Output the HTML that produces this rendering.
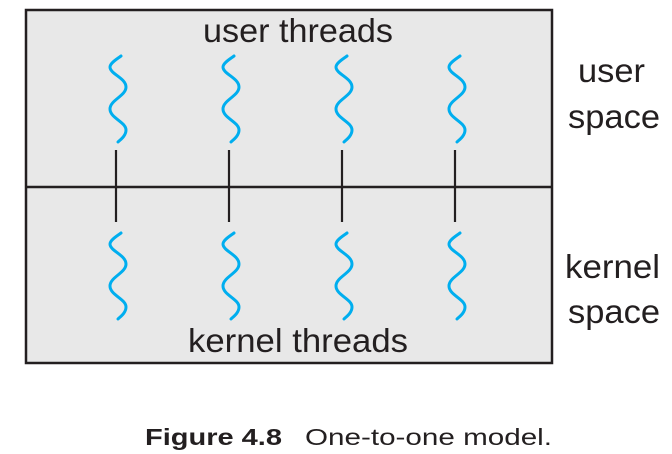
<!DOCTYPE html>
<html><head><style>
body{margin:0;background:#fff;}
svg{display:block;}
</style></head><body>
<svg width="672" height="454" viewBox="0 0 672 454" xmlns="http://www.w3.org/2000/svg">
<rect x="26" y="10" width="526" height="353" fill="#e8e8e8" stroke="#231f20" stroke-width="2.5"/>
<line x1="26" y1="187" x2="552" y2="187" stroke="#231f20" stroke-width="2.5"/>
<g stroke="#231f20" stroke-width="2.2">
<line x1="116" y1="150" x2="116" y2="222"/>
<line x1="229" y1="150" x2="229" y2="222"/>
<line x1="342" y1="150" x2="342" y2="222"/>
<line x1="455" y1="150" x2="455" y2="222"/>
</g>
<defs>
<path id="sq" d="M3 0 C-1 3,-8 7,-8 11 C-8 18,8 22,8 31 C8 40,-8 44,-8 53 C-8 62,8 66,8 74 C8 80,2 84,0 86" fill="none" stroke="#00aeef" stroke-width="3" stroke-linecap="round"/>
</defs>
<g>
<use href="#sq" x="118" y="56"/><use href="#sq" x="231" y="56"/><use href="#sq" x="344" y="56"/><use href="#sq" x="457" y="56"/>
<use href="#sq" x="118" y="233"/><use href="#sq" x="231" y="233"/><use href="#sq" x="344" y="233"/><use href="#sq" x="457" y="233"/>
</g>
<g font-family="Liberation Sans, sans-serif" font-size="33" fill="#231f20" lengthAdjust="spacingAndGlyphs">
<text x="203" y="42" textLength="190" lengthAdjust="spacingAndGlyphs">user threads</text>
<text x="188" y="352" textLength="220" lengthAdjust="spacingAndGlyphs">kernel threads</text>
<text x="578" y="82" textLength="67" lengthAdjust="spacingAndGlyphs">user</text>
<text x="568" y="128" textLength="92" lengthAdjust="spacingAndGlyphs">space</text>
<text x="565" y="278" textLength="95" lengthAdjust="spacingAndGlyphs">kernel</text>
<text x="568" y="323" textLength="92" lengthAdjust="spacingAndGlyphs">space</text>
</g>
<g font-family="Liberation Sans, sans-serif" font-size="23" fill="#231f20">
<text x="145" y="445" font-weight="bold" textLength="137" lengthAdjust="spacingAndGlyphs">Figure 4.8</text>
<text x="305" y="445" textLength="247" lengthAdjust="spacingAndGlyphs">One-to-one model.</text>
</g>
</svg>
</body></html>
